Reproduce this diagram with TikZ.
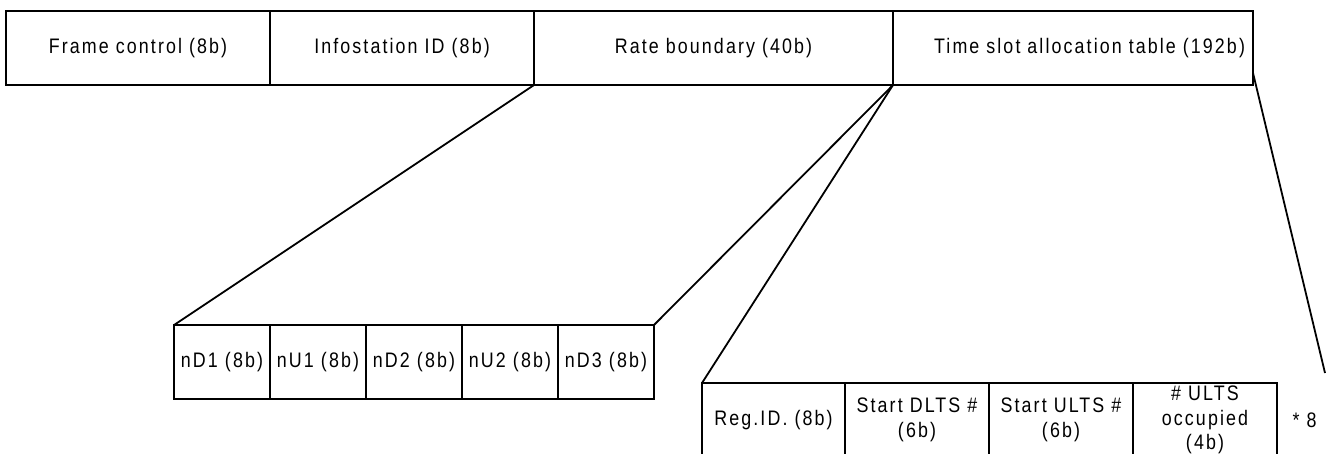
\documentclass[tikz,border=0pt]{standalone}
\usepackage{fontspec}
\newfontfamily\fieldfont{Liberation Sans}[FakeStretch=0.85, LetterSpace=10]
\usetikzlibrary{positioning}
\tikzset{
  field/.style={draw, line width=2pt, outer sep=0pt, inner sep=0pt, minimum height=74pt, align=center, font=\fieldfont\fontsize{21}{24.5}\selectfont},
  link/.style={line width=1.8pt},
  note/.style={font=\fieldfont\fontsize{21}{24.5}\selectfont},
}

\begin{document}
\begin{tikzpicture}[x=1pt, y=-1pt]
  \useasboundingbox (0,0) rectangle (1330,454);

  % --- Frame header ---
  \node[field, minimum width=264pt, anchor=north west] (frame) at (6,11) {Frame control (8b)};
  \node[field, minimum width=264pt, right=0pt of frame] (infost) {Infostation ID (8b)};
  \node[field, minimum width=359pt, right=0pt of infost] (rate) {Rate boundary (40b)};
  \node[field, minimum width=360pt, text width=344pt, align=right, right=0pt of rate] (tsat) {Time slot allocation table (192b)};

  % --- Rate boundary fields ---
  \node[field, minimum width=96pt, anchor=north west] (nd1) at (174,325) {nD1 (8b)};
  \node[field, minimum width=96pt, right=0pt of nd1] (nu1) {nU1 (8b)};
  \node[field, minimum width=96pt, right=0pt of nu1] (nd2) {nD2 (8b)};
  \node[field, minimum width=96pt, right=0pt of nd2] (nu2) {nU2 (8b)};
  \node[field, minimum width=96pt, right=0pt of nu2] (nd3) {nD3 (8b)};

  % --- Time slot table entry ---
  \node[field, minimum width=143pt, anchor=north west] (regid) at (702,383) {Reg.ID. (8b)};
  \node[field, minimum width=144pt, right=0pt of regid] (dlts) {Start DLTS \#\\(6b)};
  \node[field, minimum width=144pt, right=0pt of dlts] (ults) {Start ULTS \#\\(6b)};
  \node[field, minimum width=144pt, right=0pt of ults] (occ) {\# ULTS\\occupied\\(4b)};
  \node[note, right=12pt of occ] (times) {* 8};

  % --- Expansion lines ---
  \coordinate (tsatout) at ([yshift=12pt]tsat.south east);
  \coordinate (rep) at (1325,373);
  \draw[link] (rate.south west) -- (nd1.north west);
  \draw[link] (tsat.south west) -- (nd3.north east);
  \draw[link] (tsat.south west) -- (regid.north west);
  \draw[link] (tsatout) -- (rep);

\end{tikzpicture}
\end{document}
